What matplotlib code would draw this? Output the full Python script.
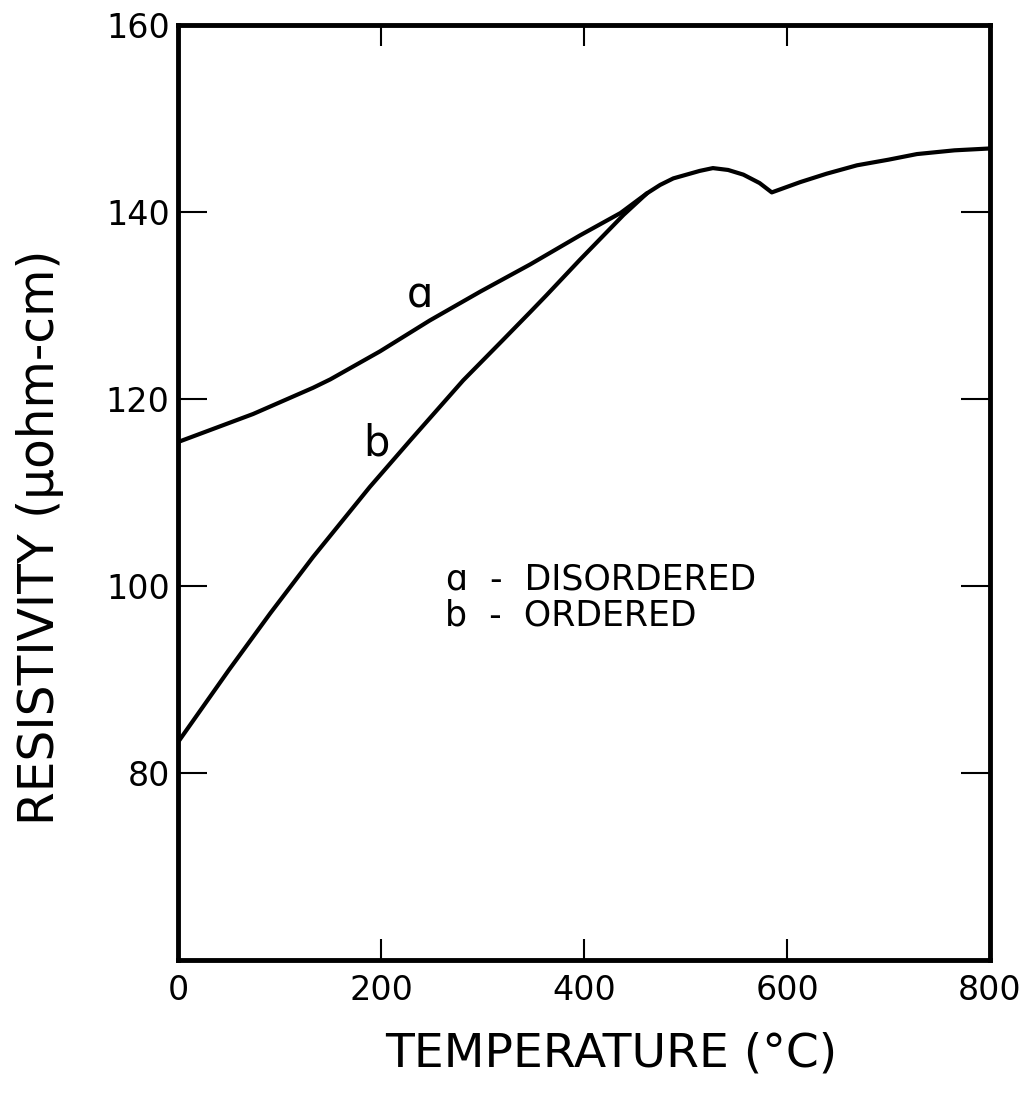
import matplotlib
matplotlib.use("Agg")
import matplotlib.pyplot as plt

# curve a - disordered
temp_a = [0, 74, 133, 150, 199, 248, 298, 347, 396, 436, 462, 475, 488, 501, 514,
          527, 542, 557, 573, 585, 613, 639, 669, 700, 728, 765, 800]
res_a = [115.4, 118.4, 121.2, 122.1, 125.1, 128.4, 131.5, 134.4, 137.5, 139.9, 142.0, 142.9,
         143.6, 144.0, 144.4, 144.7, 144.5, 144.0, 143.1, 142.1, 143.2, 144.1, 145.0, 145.6,
         146.2, 146.6, 146.8]

# curve b - ordered
temp_b = [0, 50, 91, 133, 189, 229, 281, 320, 347, 363, 396, 439, 462]
res_b = [83.3, 91.0, 97.1, 103.1, 110.6, 115.6, 122.0, 126.3, 129.3, 131.1, 134.9, 139.7, 142.0]

xticks = [0, 200, 400, 600, 800]
xmarks = [200, 400, 600]
yticks = [80, 100, 120, 140, 160]
ymarks = [80, 100, 120, 140]

plt.rcParams['font.family'] = ['DejaVu Sans']

fig = plt.figure(figsize=(10.32, 10.94), dpi=100)
ax = fig.add_axes([0.1725, 0.1225, 0.7868, 0.8546])

ax.plot(temp_a, res_a, color='black', lw=3, solid_joinstyle='round', solid_capstyle='round')
ax.plot(temp_b, res_b, color='black', lw=3, solid_joinstyle='round', solid_capstyle='round')

ax.set_xlim(0, 800)
ax.set_ylim(60, 160)

# labels on major ticks, visible marks on minor ticks
ax.xaxis.remove_overlapping_locs = False
ax.yaxis.remove_overlapping_locs = False
ax.set_xticks(xticks)
ax.set_yticks(yticks)
ax.set_xticks(xmarks, minor=True)
ax.set_yticks(ymarks, minor=True)
ax.tick_params(which='major', length=0, labelsize=24)
ax.tick_params(axis='x', which='major', pad=10)
ax.tick_params(axis='y', which='major', pad=6)
ax.tick_params(axis='x', which='minor', direction='in', length=15, width=1.5,
               top=True, bottom=True)
ax.tick_params(axis='y', which='minor', direction='in', length=21, width=1.5,
               left=True, right=True)

for s in ax.spines.values():
    s.set_linewidth(3.5)

ax.set_xlabel('TEMPERATURE (°C)', fontsize=34)
ax.xaxis.set_label_coords(0.534, -0.076)
ax.set_ylabel('RESISTIVITY (μohm-cm)', fontsize=35)
ax.yaxis.set_label_coords(-0.14, 0.452)

ax.text(238, 129.8, 'ɑ', fontsize=30, ha='center', va='baseline')
ax.text(195.6, 114.0, 'b', fontsize=30, ha='center', va='baseline')
ax.text(264, 99.6, 'ɑ  -  DISORDERED', fontsize=25, va='baseline')
ax.text(263, 95.8, 'b  -  ORDERED', fontsize=25, va='baseline')

fig.savefig('out.png', dpi=100)
